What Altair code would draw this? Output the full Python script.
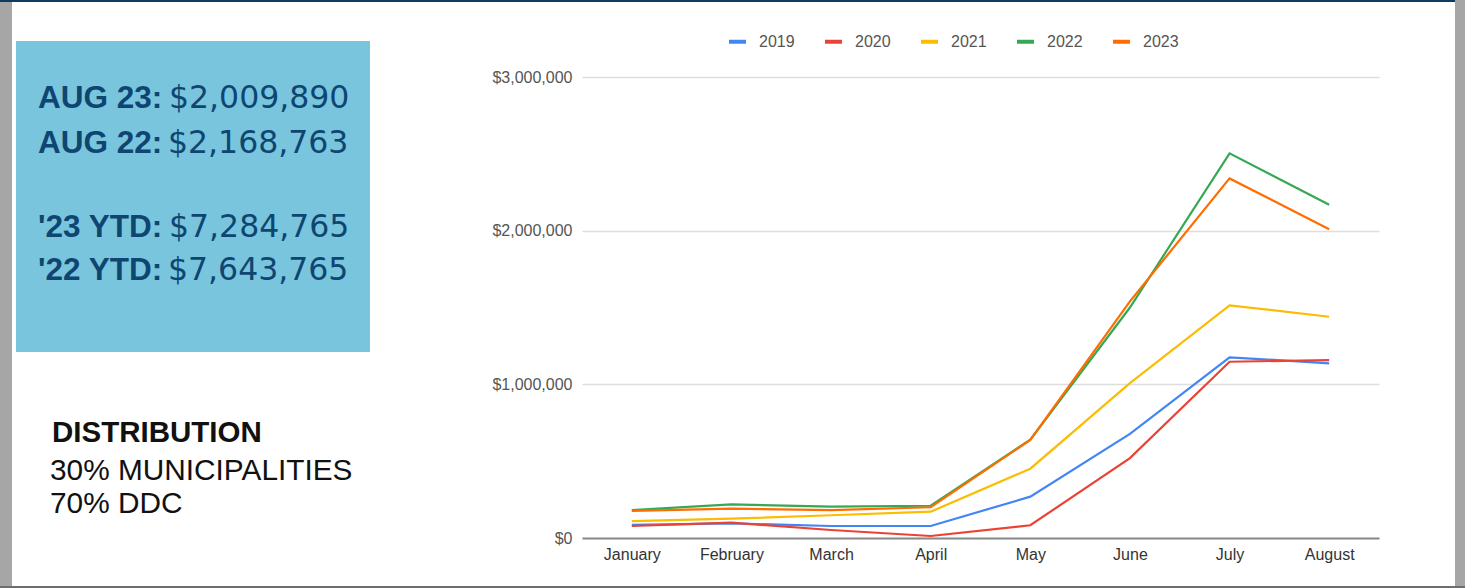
import altair as alt
import pandas as pd

months = ["January", "February", "March", "April", "May", "June", "July", "August"]
years = ["2019", "2020", "2021", "2022", "2023"]
v2019 = [85000, 95000, 78000, 78000, 269000, 677000, 1176000, 1137000]
v2020 = [78000, 100000, 52000, 13000, 83000, 520000, 1147000, 1158000]
v2021 = [110000, 126000, 148000, 171000, 451000, 1008000, 1514000, 1440000]
v2022 = [182000, 219000, 204000, 210000, 640000, 1500000, 2503000, 2168763]
v2023 = [176000, 191000, 182000, 200000, 638000, 1540000, 2340000, 2009890]
colors = ["#4285F4", "#EA4335", "#FBBC04", "#34A853", "#FF6D01"]

series = [v2019, v2020, v2021, v2022, v2023]
rows = []
for yr, vals in zip(years, series):
    for m, v in zip(months, vals):
        rows.append({"month": m, "year": yr, "value": v})
df = pd.DataFrame(rows)

OX, OY = 582, 77  # plot origin in page pixels
W, H = 797, 461

dummy = alt.Data(values=[{"a": 1}])


def rect(x0, x1, y0, y1, color):
    return alt.Chart(dummy).mark_rect(color=color).encode(
        x=alt.value(x0 - OX), x2=alt.value(x1 - OX),
        y=alt.value(y0 - OY), y2=alt.value(y1 - OY))


def txt(s, x, y, font, size, weight, color):
    return alt.Chart(dummy).mark_text(
        text=s, font=font, fontSize=size, fontWeight=weight, color=color,
        align="left", baseline="alphabetic").encode(
        x=alt.value(x - OX), y=alt.value(y - OY))


BLUE_TXT = "#0e4671"
LBL_FONT = "Liberation Sans"
VAL_FONT = "DejaVu Sans"

lines = alt.Chart(df).mark_line(strokeWidth=2.2).encode(
    x=alt.X("month:N", sort=months, title=None,
            scale=alt.Scale(type="point", padding=0.5),
            axis=alt.Axis(labelAngle=0, ticks=False, domain=True,
                          domainColor="#8a8a8a", domainWidth=2,
                          labelFont="Liberation Sans", labelFontSize=16,
                          labelColor="#333333", labelPadding=8, grid=False)),
    y=alt.Y("value:Q", title=None,
            scale=alt.Scale(domain=[0, 3000000], nice=False),
            axis=alt.Axis(values=[0, 1000000, 2000000, 3000000], format="$,.0f",
                          ticks=False, domain=False, labelFont="Liberation Sans",
                          labelFontSize=16, labelColor="#555555", labelPadding=10,
                          gridColor="#dedede", gridWidth=1.5)),
    color=alt.Color("year:N", sort=years,
                    scale=alt.Scale(domain=years, range=colors),
                    legend=alt.Legend(title=None, orient="none", direction="horizontal",
                                      legendX=727 - OX, legendY=31 - OY,
                                      symbolType="stroke", symbolStrokeWidth=4,
                                      symbolSize=289, labelFont="Liberation Sans",
                                      labelFontSize=16, labelColor="#555555",
                                      labelOffset=11, columnPadding=22)),
    order=alt.Order("month_index:Q"),
).transform_calculate(
    month_index="indexof(%s, datum.month)" % str(months)
)

layers = [
    rect(0, 12, 0, 588, "#a6a6a6"),
    rect(0, 1465, 0, 2, "#0e3b5e"),
    rect(1455, 1465, 0, 588, "#a6a6a6"),
    rect(0, 1465, 586, 588, "#6e6e6e"),
    rect(16, 370, 41, 352, "#79c5dd"),
    txt("AUG 23:", 38, 108, LBL_FONT, 31.5, "bold", BLUE_TXT),
    txt("$2,009,890", 169, 108, VAL_FONT, 31.5, "normal", BLUE_TXT),
    txt("AUG 22:", 38, 153, LBL_FONT, 31.5, "bold", BLUE_TXT),
    txt("$2,168,763", 168, 153, VAL_FONT, 31.5, "normal", BLUE_TXT),
    txt("'23 YTD:", 38, 237, LBL_FONT, 31.5, "bold", BLUE_TXT),
    txt("$7,284,765", 169, 237, VAL_FONT, 31.5, "normal", BLUE_TXT),
    txt("'22 YTD:", 38, 280, LBL_FONT, 31.5, "bold", BLUE_TXT),
    txt("$7,643,765", 168, 280, VAL_FONT, 31.5, "normal", BLUE_TXT),
    txt("DISTRIBUTION", 52, 442, LBL_FONT, 29.5, "bold", "#111111"),
    txt("30% MUNICIPALITIES", 50, 480, LBL_FONT, 29.8, "normal", "#111111"),
    txt("70% DDC", 50, 513, LBL_FONT, 29.8, "normal", "#111111"),
    lines,
]

chart = alt.layer(*layers).properties(
    width=W, height=H,
    padding={"left": OX, "top": OY, "right": 1465 - OX - W, "bottom": 588 - OY - H},
    autosize=alt.AutoSizeParams(type="none"),
    background="white",
).configure_view(strokeWidth=0)

chart.save("out.html", embed_options={"renderer": "svg", "actions": False})
